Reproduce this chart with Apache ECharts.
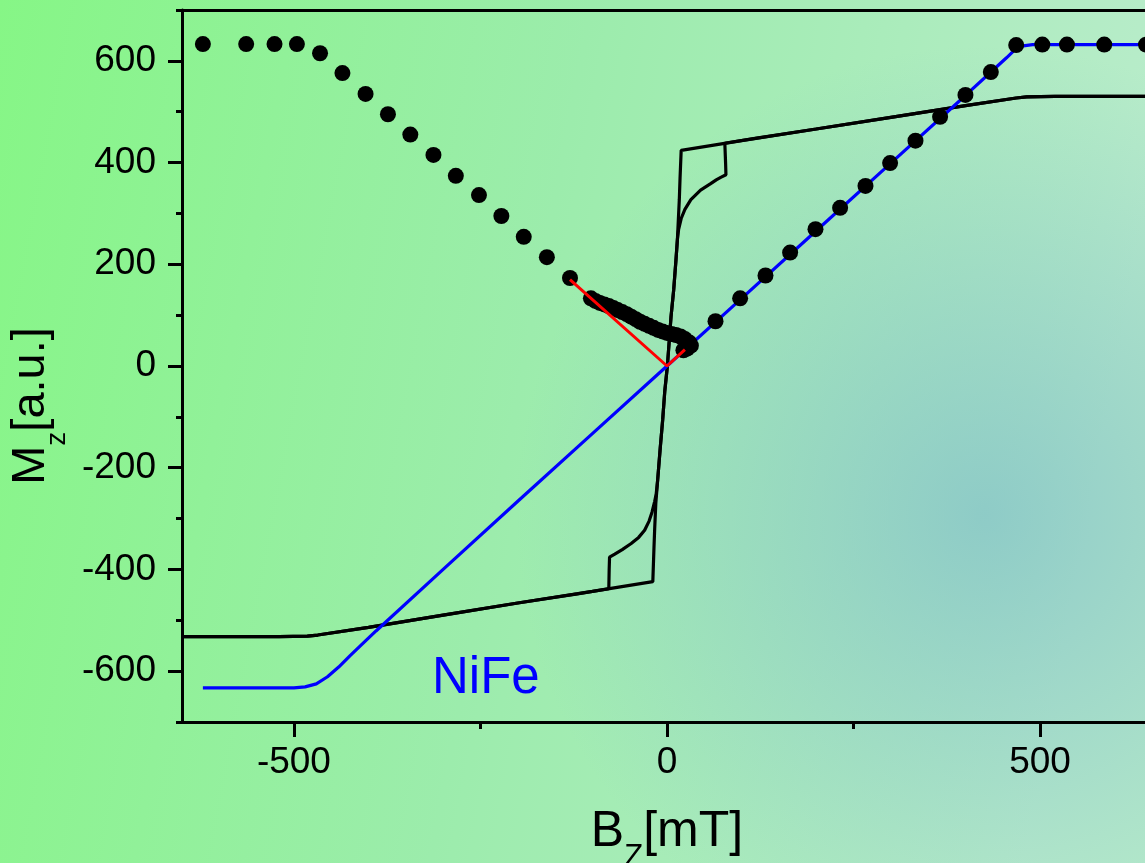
<!DOCTYPE html>
<html>
<head>
<meta charset="utf-8">
<script src="https://cdn.jsdelivr.net/npm/echarts@6/dist/echarts.min.js"></script>
<style>
html,body{margin:0;padding:0;width:1145px;height:863px;overflow:hidden;}
#chart{width:1145px;height:863px;}
</style>
</head>
<body>
<div id="chart"></div>
<script>
// ---- data (B in mT, M in a.u.) ----
const loopDown = [[650,530],[520,530],[482,529],[468,527],[400,512],[300,489],[200,466],[100,443],[19,424],[17.5,370],[16.5,327],[14,250],[12,208],[9,150],[5.4,97],[0.5,0],[-3,-50],[-5.8,-106],[-9,-160],[-12.5,-224],[-15,-270],[-16.5,-320],[-17.4,-355],[-19,-424],[-100,-443],[-200,-466],[-300,-490],[-400,-514],[-468,-529],[-482,-531],[-520,-532],[-650,-532]];
const loopUp = [[-650,-532],[-520,-532],[-482,-531],[-468,-529],[-400,-514],[-300,-490],[-200,-466],[-120,-448],[-78,-438],[-77.5,-400],[-77,-376],[-70,-370],[-60,-361],[-48,-349],[-38,-337],[-30,-323],[-24,-305],[-20,-287],[-16.5,-266],[-14.5,-252],[-12.5,-224],[-9,-160],[-5.8,-106],[-3,-50],[0.5,0],[5.4,97],[9,150],[12,208],[14,250],[15.5,268],[19,290],[24,308],[32,327],[45,346],[58,358],[66,366],[72,371],[79,376],[78.5,400],[77.5,438],[120,448],[200,466],[300,489],[400,512],[468,527],[482,529],[520,530],[650,530]];
const nifeModel = [[-622,-633],[-560,-633],[-500,-633],[-485,-631],[-470,-625],[-455,-611],[-440,-592],[-425,-570],[-410,-549],[-390,-521],[-300,-400],[-200,-266],[-100,-133],[0,0],[100,133],[200,266],[300,399],[400,532],[440,586],[455,606],[465,620],[475,629],[490,632],[520,632],[560,632],[650,632]];
const measuredLeft = [[-622,633],[-564,633],[-526,633],[-496,633],[-465,615],[-435,576],[-404,535],[-374,495],[-344,455],[-313,415],[-283,374],[-252,336],[-222,295],[-192,254],[-161,214],[-130,173]];
const measuredCenter = [[-102,133],[-96,128],[-90,124],[-84,121],[-78,118],[-72,114],[-66,110],[-60,106],[-54,102],[-48,97],[-42,92],[-36,87],[-30,83],[-24,79],[-18,75],[-12,71],[-6,68],[0,65],[6,63],[12,61],[18,58],[24,53],[30,46],[32,40],[27,34],[22,31]];
const measuredRight = [[65,88],[98,133],[132,178],[165,223],[199,269],[232,311],[266,354],[299,399],[333,443],[366,490],[400,533],[434,578],[468,631],[503,632],[536,632],[586,632],[642,632]];
const guideLine = [[-130,170],[0,0],[24,32]];
const xTicks = [-500, 0, 500];
const yTicks = [-600, -400, -200, 0, 200, 400, 600];
const sampleLabel = 'NiFe';

const FONT = '"Liberation Sans", Arial, sans-serif';

// layout
const G = {left:182, top:10, width:970, height:712};
const xMin = -650, xMax = 650, yMin = -700, yMax = 700;
const sx = G.width/(xMax-xMin), sy = G.height/(yMax-yMin);
const G2 = {
  left: G.left + (xTicks[0]-xMin)*sx,
  width: (xTicks[xTicks.length-1]-xTicks[0])*sx,
  top: G.top + (yMax-yTicks[yTicks.length-1])*sy,
  height: (yTicks[yTicks.length-1]-yTicks[0])*sy
};

const chart = echarts.init(document.getElementById('chart'), null, {renderer:'canvas'});
const black = '#000';
chart.setOption({
  animation:false,
  backgroundColor:{type:'linear',x:0,y:0,x2:1,y2:0.25,colorStops:[
    {offset:0,color:'#86f686'},{offset:0.5,color:'#9cecac'},{offset:1,color:'#b8ecca'}]},
  graphic:[
    {type:'circle', z:-100, silent:true, shape:{cx:985, cy:515, r:470},
     style:{fill:{type:'radial',x:0.5,y:0.5,r:0.5,colorStops:[
       {offset:0,color:'rgba(125,188,200,0.68)'},{offset:1,color:'rgba(125,188,200,0)'}]}}},
    {type:'text', z:10, x:432, y:679, style:{text:sampleLabel, fill:'#0000ff', font:'51px '+FONT, verticalAlign:'middle'}}
  ],
  grid:[
    {left:G.left, top:G.top, width:G.width, height:G.height, containLabel:false, outerBoundsMode:'none'},
    {left:G2.left, top:G2.top, width:G2.width, height:G2.height, containLabel:false, outerBoundsMode:'none'}
  ],
  xAxis:[
    {type:'value', gridIndex:0, min:xMin, max:xMax, position:'bottom',
     axisLine:{show:true, onZero:false, lineStyle:{color:black,width:3}},
     axisTick:{show:false}, axisLabel:{show:false}, splitLine:{show:false},
     name:'{m|B}{s|Z}{m|[mT]}', nameLocation:'middle', nameGap:82,
     nameTextStyle:{rich:{
       m:{fontFamily:FONT,fontSize:50,lineHeight:56,color:black,verticalAlign:'middle'},
       s:{fontFamily:FONT,fontSize:31,lineHeight:31,color:black,verticalAlign:'middle',padding:[50,0,0,0]}}}},
    {type:'value', gridIndex:0, min:xMin, max:xMax, position:'top',
     axisLine:{show:true, onZero:false, lineStyle:{color:black,width:3}},
     axisTick:{show:false}, axisLabel:{show:false}, splitLine:{show:false}},
    {type:'value', gridIndex:1, min:xTicks[0], max:xTicks[xTicks.length-1], interval:500, position:'bottom',
     offset:(G.top+G.height)-(G2.top+G2.height),
     axisLine:{show:false, onZero:false},
     axisTick:{show:true, length:15, lineStyle:{color:black,width:3}},
     minorTick:{show:true, splitNumber:2, length:7, lineStyle:{color:black,width:3}},
     axisLabel:{show:true, fontFamily:FONT, fontSize:37, color:black, margin:22},
     splitLine:{show:false}}
  ],
  yAxis:[
    {type:'value', gridIndex:0, min:yMin, max:yMax, interval:100, position:'left',
     axisLine:{show:true, onZero:false, lineStyle:{color:black,width:3}},
     axisTick:{show:true, length:6, lineStyle:{color:black,width:3}},
     axisLabel:{show:false}, splitLine:{show:false},
     name:'{m|M}{s|z}{m|[a.u.]}', nameLocation:'middle', nameGap:125,
     nameTextStyle:{padding:[0,80,0,0], rich:{
       m:{fontFamily:FONT,fontSize:47,lineHeight:52,color:black,verticalAlign:'middle'},
       s:{fontFamily:FONT,fontSize:28,lineHeight:28,color:black,verticalAlign:'middle',padding:[53,0,0,0]}}}},
    {type:'value', gridIndex:1, min:yTicks[0], max:yTicks[yTicks.length-1], interval:200, position:'left',
     offset:G2.left-G.left,
     axisLine:{show:false, onZero:false},
     axisTick:{show:true, length:14, lineStyle:{color:black,width:3}},
     axisLabel:{show:true, fontFamily:FONT, fontSize:37, color:black, margin:26},
     splitLine:{show:false}}
  ],
  series:[
    {name:'loop down', type:'line', xAxisIndex:0, yAxisIndex:0, data:loopDown, showSymbol:false, symbol:'none', z:2,
     lineStyle:{color:black,width:3.2}},
    {name:'loop up', type:'line', xAxisIndex:0, yAxisIndex:0, data:loopUp, showSymbol:false, symbol:'none', z:2,
     lineStyle:{color:black,width:3.2}},
    {name:'NiFe', type:'line', xAxisIndex:0, yAxisIndex:0, data:nifeModel, showSymbol:false, symbol:'none', z:3,
     lineStyle:{color:'#0000ff',width:3.2}},
    {name:'measured', type:'scatter', xAxisIndex:0, yAxisIndex:0,
     data:measuredLeft.concat(measuredCenter, measuredRight), symbol:'circle', symbolSize:16, z:4,
     itemStyle:{color:black, opacity:1}},
    {name:'guide', type:'line', xAxisIndex:0, yAxisIndex:0, data:guideLine, showSymbol:false, symbol:'none', z:5,
     lineStyle:{color:'#ff0000',width:3}}
  ]
});
</script>
</body>
</html>
